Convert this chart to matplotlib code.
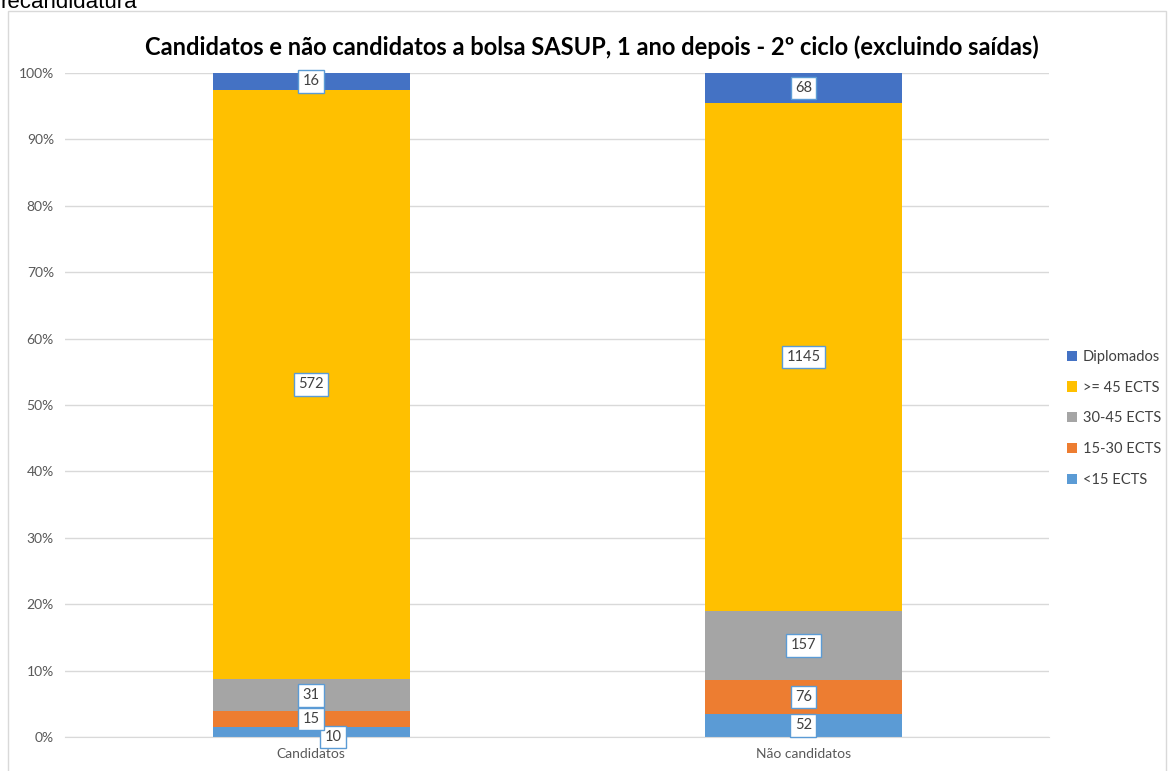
import numpy as np
import matplotlib.pyplot as plt
from matplotlib.patches import Rectangle

groups = ["Candidatos", "Não candidatos"]
categories = ["<15 ECTS", "15-30 ECTS", "30-45 ECTS", ">= 45 ECTS", "Diplomados"]
counts = {
    "<15 ECTS": [10, 52],
    "15-30 ECTS": [15, 76],
    "30-45 ECTS": [31, 157],
    ">= 45 ECTS": [572, 1145],
    "Diplomados": [16, 68],
}
colors = {
    "<15 ECTS": "#5B9BD5",
    "15-30 ECTS": "#ED7D31",
    "30-45 ECTS": "#A5A5A5",
    ">= 45 ECTS": "#FFC000",
    "Diplomados": "#4472C4",
}

plt.rcParams['font.family'] = ['Lato', 'DejaVu Sans']

fig = plt.figure(figsize=(11.7, 7.71), dpi=100)
ax = fig.add_axes([0.0556, 0.0441, 0.8414, 0.8612])

# outer chart border
fig.patches.append(Rectangle((0.007, -0.01), 0.99, 0.996, transform=fig.transFigure,
                             fill=False, edgecolor="#D9D9D9", linewidth=1))
# caption above the chart, cut off at the top as in the original screenshot
fig.text(0.0, 771 - 8, "recandidatura", transform=None, fontsize=16,
         family="Liberation Sans", va="baseline", ha="left")

totals = np.sum([counts[c] for c in categories], axis=0)
x = np.arange(len(groups))
bottom = np.zeros(len(groups))
bars = {}
for c in categories:
    share = np.array(counts[c]) / totals
    bars[c] = ax.bar(x, share, 0.40, bottom=bottom, color=colors[c], label=c, zorder=2)
    for i in range(len(groups)):
        yc = bottom[i] + share[i] / 2
        xc = x[i]
        if c == "<15 ECTS" and i == 0:
            xc, yc = x[i] + 0.045, bottom[i] + 0.0
        ax.text(xc, yc, str(counts[c][i]), ha="center", va="center", fontsize=10.5,
                color="#404040", zorder=4,
                bbox=dict(boxstyle="square,pad=0.3", facecolor="white",
                          edgecolor="#5B9BD5", linewidth=1))
    bottom += share

ax.set_xlim(-0.5, 1.5)
ax.set_ylim(0, 1)
ax.set_yticks(np.arange(0, 1.01, 0.1))
ax.set_yticklabels([f"{int(round(v * 100))}%" for v in np.arange(0, 1.01, 0.1)])
ax.set_xticks(x)
ax.set_xticklabels(groups)
ax.tick_params(length=0, labelsize=10, colors="#595959", pad=8)
ax.grid(axis="y", color="#D9D9D9", linewidth=1, zorder=0)
for s in ["top", "right", "left"]:
    ax.spines[s].set_visible(False)
ax.spines["bottom"].set_color("#D9D9D9")

fig.text(0.506, 1 - 47 / 771, "Candidatos e não candidatos a bolsa SASUP, 1 ano depois - 2º ciclo (excluindo saídas)",
         fontsize=17, fontweight="bold", ha="center", va="center")

handles = [bars[c] for c in reversed(categories)]
ax.legend(handles, list(reversed(categories)), loc="center left", bbox_to_anchor=(1.004, 0.48),
          frameon=False, fontsize=10.5, handlelength=0.7, handleheight=0.7,
          labelspacing=1.15, handletextpad=0.4, labelcolor="#404040")

fig.savefig("out.png", dpi=100)
